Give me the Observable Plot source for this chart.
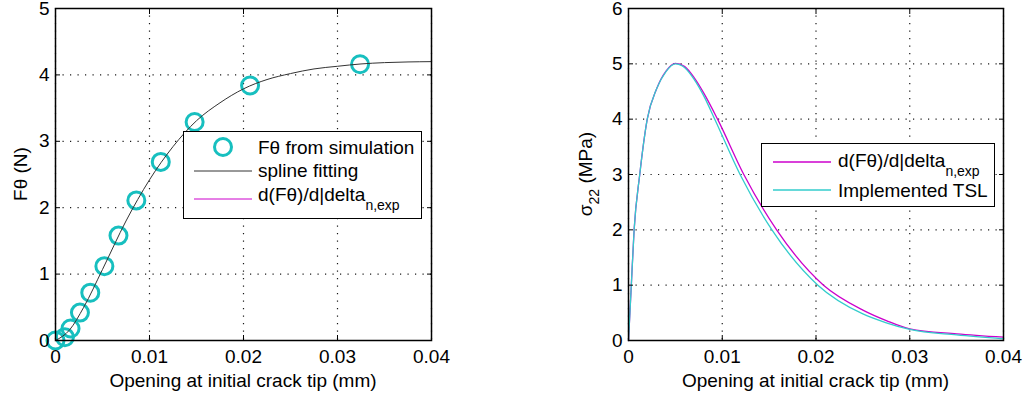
<!DOCTYPE html>
<html><head><meta charset="utf-8">
<script src="https://cdn.jsdelivr.net/npm/d3@7"></script>
<script src="https://cdn.jsdelivr.net/npm/@observablehq/plot@0.6"></script>
<style>
body{margin:0;background:#fff;font-family:"Liberation Sans",Arial,sans-serif;}
#wrap{position:relative;width:1028px;height:398px;overflow:hidden}
#left,#right{position:absolute;top:0}
#left{left:0} #right{left:514px}
.legend{position:absolute;background:#fff;border:1.5px solid #000;box-sizing:border-box}
.legend svg{position:absolute;left:0;top:0;overflow:visible}
</style></head><body>
<div id="wrap"><div id="left"></div><div id="right"></div>
<div class="legend" id="legL" style="left:183px;top:131px;width:239px;height:88px"></div>
<div class="legend" id="legR" style="left:761px;top:143px;width:234px;height:64px"></div></div>
<script>
// ---------- data ----------
const xTicks = [0, 0.01, 0.02, 0.03, 0.04];
const xTickLabels = ["0", "0.01", "0.02", "0.03", "0.04"];
const yTicksL = [0, 1, 2, 3, 4, 5];
const yTicksR = [0, 1, 2, 3, 4, 5, 6];

// left panel: simulation points
const simX = [0, 0.001, 0.0016, 0.0026, 0.0037, 0.0052, 0.0067, 0.0086, 0.0112, 0.0148, 0.0207, 0.0324];
const simY = [0, 0.05, 0.18, 0.42, 0.72, 1.12, 1.58, 2.11, 2.69, 3.29, 3.84, 4.16];
// left panel: spline fitting
const splX = [0, 0.0015, 0.003, 0.005, 0.0075, 0.01, 0.0125, 0.015, 0.0175, 0.02, 0.0225, 0.025, 0.0275, 0.03, 0.0325, 0.035, 0.0375, 0.04];
const splY = [0, 0.16, 0.5, 1.07, 1.8, 2.42, 2.92, 3.31, 3.58, 3.79, 3.93, 4.02, 4.09, 4.13, 4.165, 4.185, 4.195, 4.2];

// right panel: d(Fθ)/dδ experimental
const magX = [0, 0.0003, 0.0006, 0.0012, 0.002, 0.003, 0.004, 0.005, 0.006, 0.007, 0.008, 0.0095, 0.0123, 0.0158, 0.0208, 0.025, 0.0275, 0.03, 0.035, 0.04];
const magY = [0, 1.0, 2.0, 3.0, 4.0, 4.55, 4.87, 5.01, 4.95, 4.75, 4.48, 4.0, 3.0, 2.0, 1.0, 0.55, 0.36, 0.21, 0.12, 0.06];
// right panel: implemented TSL
const cyaX = [0, 0.0003, 0.0006, 0.0012, 0.002, 0.003, 0.004, 0.005, 0.006, 0.007, 0.008, 0.0092, 0.0119, 0.0153, 0.0202, 0.025, 0.0275, 0.03, 0.035, 0.04];
const cyaY = [0, 1.0, 2.0, 3.0, 4.0, 4.55, 4.86, 5.0, 4.93, 4.72, 4.43, 4.0, 3.0, 2.0, 1.0, 0.48, 0.32, 0.2, 0.1, 0.03];

const xLabel = "Opening at initial crack tip (mm)";
const yLabelL = "Fθ (N)";
const yLabelR = ["σ", "22", " (MPa)"];
const legendL = ["Fθ from simulation", "spline fitting", "d(Fθ)/d|delta", "n,exp"];
const legendR = ["d(Fθ)/d|delta", "n,exp", "Implemented TSL"];

const TEAL = "#17bfbf", MAG = "#cc00cc", CYAN = "#33cccc", SPL = "#333333";
const FONT = "'Liberation Sans', Arial, sans-serif";

const zip = (xs, ys) => xs.map((x, i) => ({x, y: ys[i]}));

function panel({yTicks, yDomain, marks, width, marginLeft, marginRight}) {
  const blank = () => "";
  const grid = {stroke: "#000", strokeOpacity: 0.9, strokeWidth: 1.2, strokeDasharray: "1.2,6.3"};
  return Plot.plot({
    width, height: 398, marginLeft, marginRight, marginTop: 8, marginBottom: 58,
    style: {fontFamily: FONT, fontSize: "19px", color: "#000", background: "transparent", overflow: "visible"},
    x: {domain: [0, 0.04]}, y: {domain: yDomain},
    marks: [
      Plot.gridX(xTicks, grid),
      Plot.gridY(yTicks, grid),
      ...marks,
      Plot.axisX(xTicks, {anchor: "bottom", tickSize: 0, tickPadding: 9, label: null, fontSize: 19,
        tickFormat: d => xTickLabels[xTicks.indexOf(d)]}),
      Plot.axisX(xTicks, {anchor: "bottom", tickSize: -5, label: null, tickFormat: blank}),
      Plot.axisX(xTicks, {anchor: "top", tickSize: -5, label: null, tickFormat: blank}),
      Plot.axisY(yTicks, {anchor: "left", tickSize: 0, tickPadding: 6, label: null, fontSize: 19,
        tickFormat: d => String(d)}),
      Plot.axisY(yTicks, {anchor: "left", tickSize: -5, label: null, tickFormat: blank}),
      Plot.axisY(yTicks, {anchor: "right", tickSize: -5, label: null, tickFormat: blank}),
      Plot.frame({stroke: "#000", strokeWidth: 1.5})
    ]
  });
}

// ---------- left ----------
const left = panel({
  yTicks: yTicksL, yDomain: [0, 5], width: 514, marginLeft: 55, marginRight: 83,
  marks: [
    Plot.dot(zip(simX, simY), {x: "x", y: "y", r: 8.5, stroke: TEAL, strokeWidth: 3, fill: "none"}),
    Plot.line(zip(splX, splY), {x: "x", y: "y", stroke: SPL, strokeWidth: 1, curve: "monotone-x"})
  ]
});
document.getElementById("left").appendChild(left);

// ---------- right ----------
const right = panel({
  yTicks: yTicksR, yDomain: [0, 6], width: 514, marginLeft: 114, marginRight: 25,
  marks: [
    Plot.line(zip(magX, magY), {x: "x", y: "y", stroke: MAG, strokeWidth: 1.3, curve: "monotone-x"}),
    Plot.line(zip(cyaX, cyaY), {x: "x", y: "y", stroke: CYAN, strokeWidth: 1.3, curve: "monotone-x"})
  ]
});
document.getElementById("right").appendChild(right);

// ---------- axis labels ----------
function addLabels(svg, cx, ylabX, ylabParts) {
  const s = d3.select(svg);
  s.append("text").attr("x", cx).attr("y", 387).attr("text-anchor", "middle")
    .attr("font-size", 19).attr("font-family", FONT).attr("fill", "#000").text(xLabel);
  const t = s.append("text").attr("transform", `translate(${ylabX},174) rotate(-90)`)
    .attr("text-anchor", "middle").attr("font-size", 19).attr("font-family", FONT).attr("fill", "#000");
  if (typeof ylabParts === "string") t.text(ylabParts);
  else {
    t.append("tspan").text(ylabParts[0]);
    t.append("tspan").attr("dy", 7).attr("font-size", 14).text(ylabParts[1]);
    t.append("tspan").attr("dy", -7).text(ylabParts[2]);
  }
}
addLabels(left, 243, 27, yLabelL);
addLabels(right, 301.5, 78, yLabelR);

// ---------- legends ----------
function legendSvg(id, w, h) {
  return d3.select("#" + id).append("svg").attr("width", w).attr("height", h)
    .attr("font-family", FONT).attr("font-size", 19);
}
const gL = legendSvg("legL", 239, 88);
gL.append("circle").attr("cx", 39).attr("cy", 15).attr("r", 8.5).attr("fill", "none").attr("stroke", TEAL).attr("stroke-width", 3);
gL.append("text").attr("x", 74).attr("y", 22).text(legendL[0]);
gL.append("line").attr("x1", 10).attr("x2", 68).attr("y1", 39).attr("y2", 39).attr("stroke", SPL);
gL.append("text").attr("x", 74).attr("y", 45).text(legendL[1]);
gL.append("line").attr("x1", 10).attr("x2", 68).attr("y1", 67).attr("y2", 67).attr("stroke", MAG);
const t3 = gL.append("text").attr("x", 74).attr("y", 69);
t3.append("tspan").text(legendL[2]);
t3.append("tspan").attr("dy", 9).attr("font-size", 14).text(legendL[3]);

const gR = legendSvg("legR", 234, 64);
gR.append("line").attr("x1", 11).attr("x2", 69).attr("y1", 18).attr("y2", 18).attr("stroke", MAG).attr("stroke-width", 1.3);
const r1 = gR.append("text").attr("x", 76).attr("y", 23);
r1.append("tspan").text(legendR[0]);
r1.append("tspan").attr("dy", 9).attr("font-size", 14).text(legendR[1]);
gR.append("line").attr("x1", 11).attr("x2", 69).attr("y1", 46).attr("y2", 46).attr("stroke", CYAN).attr("stroke-width", 1.3);
gR.append("text").attr("x", 76).attr("y", 53).text(legendR[2]);
</script>
</body></html>
